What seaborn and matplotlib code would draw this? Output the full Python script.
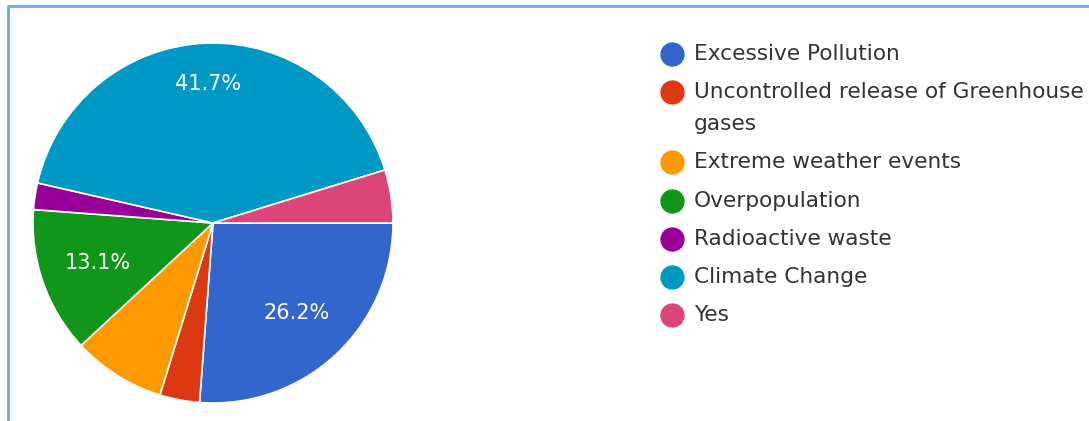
import matplotlib
matplotlib.use("Agg")
import matplotlib.pyplot as plt
import seaborn as sns

# Survey responses (counts out of 84)
categories = [
    "Excessive Pollution",
    "Uncontrolled release of Greenhouse\ngases",
    "Extreme weather events",
    "Overpopulation",
    "Radioactive waste",
    "Climate Change",
    "Yes",
]
counts = [22, 3, 7, 11, 2, 35, 4]
colors = sns.color_palette(
    ["#3366cc", "#dc3912", "#ff9900", "#109618", "#990099", "#0099c6", "#dd4477"]
)

sns.set_theme(style="white")
plt.rcParams["font.family"] = ["DejaVu Sans"]

W, H = 1089, 421
fig = plt.figure(figsize=(W / 100, H / 100), dpi=100)
fig.patch.set_facecolor("white")

# Pie axes: centre (213, 223) px, radius 180 px
cx, cy, r = 213, 223, 180
ax = fig.add_axes([(cx - r) / W, (H - cy - r) / H, 2 * r / W, 2 * r / H])
total = sum(counts)


def pct_label(p):
    return f"{p:.1f}%" if p >= 10 else ""


wedges, _, autotexts = ax.pie(
    counts,
    colors=colors,
    startangle=0,
    counterclock=False,
    radius=1.0,
    autopct=pct_label,
    pctdistance=0.68,
    wedgeprops=dict(edgecolor="white", linewidth=1.2),
    textprops=dict(color="white", fontsize=15),
)
# the large top slice carries its label a little further out
for t, c in zip(autotexts, counts):
    if c / total > 0.4:
        x, y = t.get_position()
        t.set_position((x * 0.77 / 0.68, y * 0.77 / 0.68))
ax.set_xlim(-1, 1)
ax.set_ylim(-1, 1)
ax.set_aspect("equal")
ax.axis("off")

# Overlay in pixel coordinates for the legend and frame
ov = fig.add_axes([0, 0, 1, 1], facecolor="none")
ov.set_xlim(0, W)
ov.set_ylim(H, 0)
ov.axis("off")

ov.plot([7.5, 7.5, W], [H, 5.5, 5.5], color="#6fa8e6", lw=2.0,
        solid_joinstyle="miter", clip_on=False)

y = 54.0
for name, col in zip(categories, colors):
    ov.plot(672, y, "o", ms=16.5, color=col, mec=col)
    for k, line in enumerate(name.split("\n")):
        ov.text(694, y + 32 * k, line, fontsize=15.6, color="#333333",
                va="center")
    y += 38.2 + 32 * name.count("\n")

fig.savefig("out.png", dpi=100, facecolor="white")
